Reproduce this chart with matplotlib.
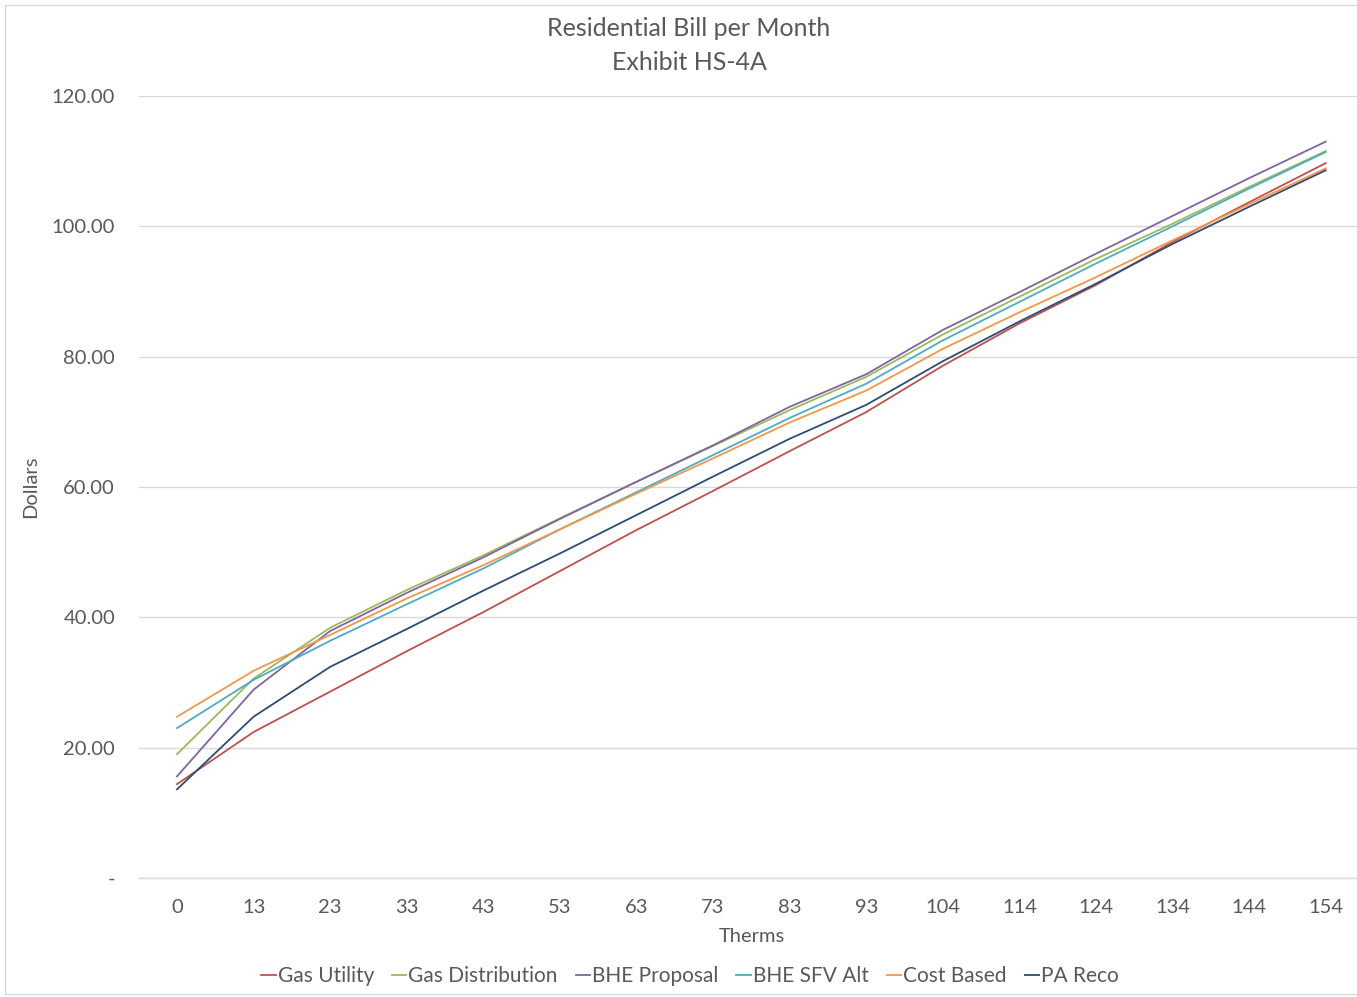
import matplotlib
matplotlib.use("Agg")
import matplotlib.pyplot as plt
from matplotlib.patches import Rectangle

therms = ["0", "13", "23", "33", "43", "53", "63", "73", "83", "93", "104", "114", "124", "134", "144", "154"]

gas_utility = [14.4, 22.4, 28.6, 34.8, 40.8, 47.1, 53.4, 59.4, 65.5, 71.5, 78.6, 85.1, 91.0, 97.6, 103.7, 109.7]
gas_distribution = [19.0, 30.6, 38.4, 44.2, 49.5, 55.2, 60.8, 66.3, 71.8, 76.9, 83.4, 89.2, 95.0, 100.4, 106.05, 111.55]
bhe_proposal = [15.6, 28.9, 37.9, 43.75, 49.2, 55.1, 60.8, 66.4, 72.3, 77.3, 84.1, 89.9, 95.8, 101.6, 107.4, 113.0]
bhe_sfv_alt = [23.0, 30.4, 36.4, 42.0, 47.5, 53.5, 59.2, 64.9, 70.6, 75.85, 82.5, 88.4, 94.3, 100.0, 105.8, 111.4]
cost_based = [24.75, 31.8, 37.3, 42.9, 48.0, 53.5, 59.0, 64.4, 69.9, 74.8, 81.2, 86.8, 92.2, 97.85, 103.4, 108.9]
pa_reco = [13.6, 24.75, 32.4, 38.2, 44.1, 49.8, 55.7, 61.6, 67.4, 72.6, 79.3, 85.4, 91.2, 97.3, 103.0, 108.6]

series_names = ["Gas Utility", "Gas Distribution", "BHE Proposal", "BHE SFV Alt", "Cost Based", "PA Reco"]
series_values = [gas_utility, gas_distribution, bhe_proposal, bhe_sfv_alt, cost_based, pa_reco]
colors = ["#C0504D", "#9BBB59", "#8064A2", "#4BACC6", "#F79646", "#2C4D75"]

yticks = [0, 20, 40, 60, 80, 100, 120]
ytick_labels = ["-", "20.00", "40.00", "60.00", "80.00", "100.00", "120.00"]

plt.rcParams['font.family'] = ['Lato', 'DejaVu Sans']
text_color = "#595959"
grid_color = "#D9D9D9"

W, H = 1357, 997
fig = plt.figure(figsize=(W / 100, H / 100), dpi=100)

# chart border
fig.patches.append(Rectangle((5 / W, 3 / H), 1.2, (H - 8) / H, transform=fig.transFigure,
                             fill=False, edgecolor=grid_color, linewidth=1.0))

left, right = 138.7, 1364.0
top, bottom = 96.0, 878.0
ax = fig.add_axes([left / W, (H - bottom) / H, (right - left) / W, (bottom - top) / H])

x = list(range(len(therms)))
for name, vals, c in zip(series_names, series_values, colors):
    ax.plot(x, vals, color=c, linewidth=1.3, label=name, solid_joinstyle='round')

ax.set_xlim(-0.5, len(therms) - 0.5)
ax.set_ylim(0, 120)
ax.set_xticks(x)
ax.set_xticklabels(therms)
ax.set_yticks(yticks)
ax.set_yticklabels(ytick_labels)
ax.tick_params(axis='both', length=0, labelsize=14.5, labelcolor=text_color)
ax.tick_params(axis='x', pad=15)
ax.tick_params(axis='y', pad=17)
ax.grid(axis='y', color=grid_color, linewidth=1.0)
ax.set_axisbelow(True)
for s in ["top", "right", "left"]:
    ax.spines[s].set_visible(False)
ax.spines["bottom"].set_color(grid_color)
ax.spines["bottom"].set_linewidth(1.0)

fig.text(689 / W, 1 - 29 / H, "Residential Bill per Month", ha='center', va='center',
         fontsize=18, color=text_color)
fig.text(689 / W, 1 - 62 / H, "Exhibit HS-4A", ha='center', va='center',
         fontsize=18, color=text_color)
fig.text(31 / W, 1 - 487 / H, "Dollars", ha='center', va='center', rotation=90,
         fontsize=14.5, color=text_color)
fig.text(752 / W, 1 - 936 / H, "Therms", ha='center', va='center',
         fontsize=14.5, color=text_color)

leg = fig.legend(loc='center', bbox_to_anchor=(690 / W, 1 - 976 / H), ncol=6, frameon=False,
                 fontsize=15, handlelength=0.7, handletextpad=0.1, columnspacing=0.85,
                 labelcolor=text_color)

fig.savefig("out.png", dpi=100)
